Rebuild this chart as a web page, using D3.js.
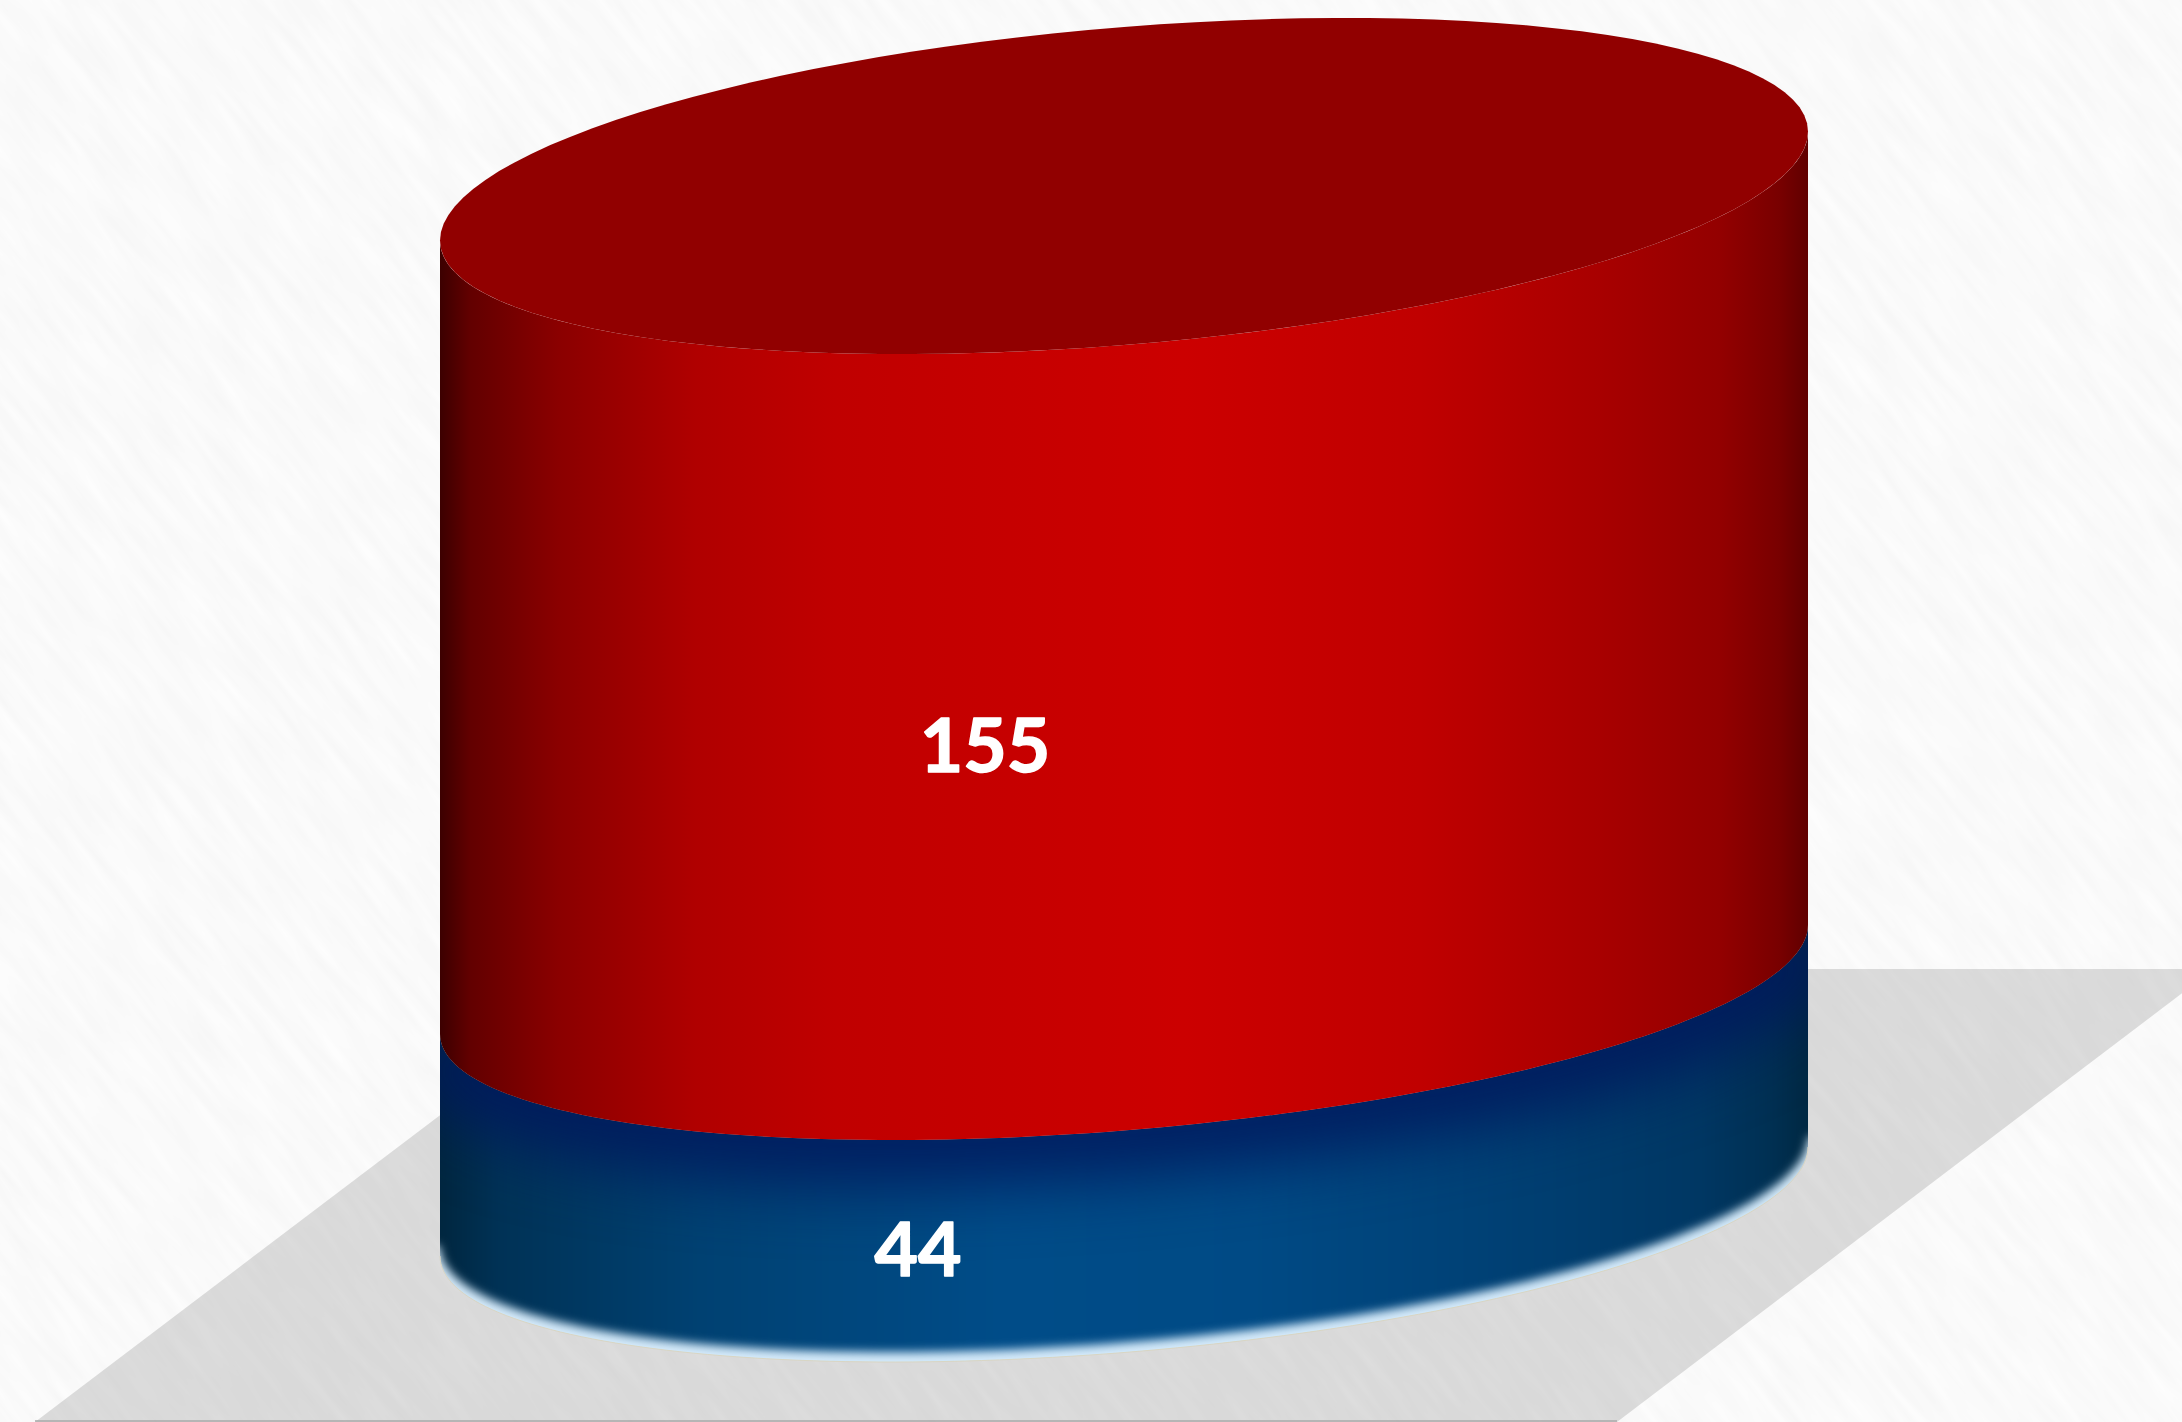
<!DOCTYPE html>
<html>
<head>
<meta charset="utf-8">
<script src="https://cdn.jsdelivr.net/npm/d3@7"></script>
<style>
  html, body { margin: 0; padding: 0; background: #f7f7f7; overflow: hidden; }
  text { font-family: Lato, "Open Sans", sans-serif; font-weight: 700; fill: #fff; stroke: #fff; stroke-width: 1.5; stroke-linejoin: round; text-anchor: middle; }
</style>
</head>
<body>
<svg id="chart" width="2182" height="1422"></svg>
<script>
// stacked from the bottom up
var seriesNames = ["blue", "red"]
var seriesValues = [44, 155]

var width = 2182, height = 1422
var levels = d3.cumsum(seriesValues)
levels = [0].concat(Array.from(levels))

// the stack sits in perspective, so the value axis is not quite even
var yScale = d3.scaleLinear().domain(levels).range([1201.5, 979.5, 186])
var flatScale = d3.scaleLinear().domain(levels).range([151, 151, 159])   // half height of a ring

var xLeft = 440, xRight = 1808
var cx = (xLeft + xRight) / 2, rx = (xRight - xLeft) / 2
var tilt = 54.5

function ring(value, t0, t1) {
    return d3.range(0, 121).map(function(i) {
        var t = t0 + (t1 - t0) * i / 120
        return [cx + rx * Math.cos(t), yScale(value) - tilt * Math.cos(t) + flatScale(value) * Math.sin(t)]
    })
}
var line = d3.line()

function lowerArc(value) { return ring(value, Math.PI, 0) }
function sidePath(lower, upper) {
    return line(lowerArc(upper).concat(lowerArc(lower).reverse())) + "Z"
}

var svg = d3.select("#chart")
var defs = svg.append("defs")

function addGradient(id, stops) {
    var g = defs.append("linearGradient").attr("id", id)
        .attr("gradientUnits", "userSpaceOnUse")
        .attr("x1", xLeft).attr("x2", xRight).attr("y1", 0).attr("y2", 0)
    stops.forEach(function(s) {
        g.append("stop").attr("offset", (s[0] - xLeft) / (xRight - xLeft)).attr("stop-color", s[1])
    })
}
addGradient("red-side", [[440, "#3c0000"], [470, "#620000"], [557, "#8a0000"], [696, "#b00000"], [835, "#c00000"], [1183, "#cc0000"], [1420, "#c00000"], [1600, "#a80000"], [1720, "#930000"], [1780, "#780000"], [1808, "#600000"]])
addGradient("blue-side", [[440, "#00263f"], [500, "#003256"], [700, "#004172"], [1000, "#004c88"], [1250, "#004a85"], [1500, "#004074"], [1700, "#003763"], [1770, "#003053"], [1808, "#002842"]])

var noise = defs.append("filter").attr("id", "paper")
    .attr("filterUnits", "userSpaceOnUse")
    .attr("x", -1500).attr("y", -1500).attr("width", 4500).attr("height", 4500)
noise.append("feTurbulence").attr("type", "fractalNoise").attr("baseFrequency", "0.012 0.09")
    .attr("numOctaves", 2).attr("seed", 4)
noise.append("feColorMatrix").attr("type", "matrix")
    .attr("values", "0 0 0 0 1  0 0 0 0 1  0 0 0 0 1  1.1 0 0 0 -0.2")

function addBlur(id, amount) {
    defs.append("filter").attr("id", id).attr("filterUnits", "userSpaceOnUse")
        .attr("color-interpolation-filters", "sRGB")
        .attr("x", 300).attr("y", 800).attr("width", 1700).attr("height", 700)
        .append("feGaussianBlur").attr("stdDeviation", amount)
}
addBlur("soft-wide", 34)
addBlur("soft-edge", 5)

defs.append("clipPath").attr("id", "blue-clip")
    .append("path").attr("d", sidePath(levels[0], levels[1]))

// background
svg.append("rect").attr("width", width).attr("height", height).attr("fill", "#f7f7f7")
svg.append("rect")
    .attr("x", -1500).attr("y", -1500).attr("width", 4500).attr("height", 4500)
    .attr("transform", "rotate(52 1091 711)")
    .attr("filter", "url(#paper)")

// floor
svg.append("polygon")
    .attr("points", [[633, 969], [2214, 969], [1617, 1422], [35, 1422]].join(" "))
    .attr("fill", "#000").attr("fill-opacity", 0.125)
svg.append("line").attr("x1", 35).attr("x2", 1617).attr("y1", 1421).attr("y2", 1421)
    .attr("stroke", "#a8a8a8").attr("stroke-width", 1.5)

// blue part: light foot showing under a soft raised body, dark band under the seam
var shade = svg.append("g").attr("clip-path", "url(#blue-clip)")
shade.append("path").attr("d", sidePath(levels[0], levels[1])).attr("fill", "#d4eafa")

var rimLift = 10
var foot = lowerArc(levels[0]).map(function(p) { return [p[0], p[1] - rimLift] })
var body = [[xLeft - 40, 900], [xLeft - 40, foot[0][1]]].concat(foot, [[xRight + 40, foot[foot.length - 1][1]], [xRight + 40, 900]])
shade.append("path").attr("d", line(body) + "Z").attr("fill", "url(#blue-side)")
    .attr("filter", "url(#soft-edge)")
shade.append("path").attr("d", line(lowerArc(levels[1])))
    .attr("fill", "none").attr("stroke", "#00185c").attr("stroke-width", 80)
    .attr("filter", "url(#soft-wide)")
svg.append("path").attr("d", line(lowerArc(levels[0])))
    .attr("fill", "none").attr("stroke", "#d9d6c4").attr("stroke-width", 1)

// red part and lid
svg.append("path").attr("d", sidePath(levels[1], levels[2])).attr("fill", "url(#red-side)")
svg.append("path").attr("d", line(ring(levels[2], 0, Math.PI * 2)) + "Z").attr("fill", "#910000")

// labels, on the front of each band
var labelShift = [-206, -139]
svg.selectAll("text.value").data(seriesValues).enter().append("text")
    .attr("class", "value")
    .attr("x", function(d, i) { return cx + labelShift[i] })
    .attr("y", function(d, i) {
        var mid = (levels[i] + levels[i + 1]) / 2
        return yScale(mid) + flatScale(mid) + 34
    })
    .attr("font-size", 75)
    .text(function(d) { return d })
</script>
</body>
</html>
